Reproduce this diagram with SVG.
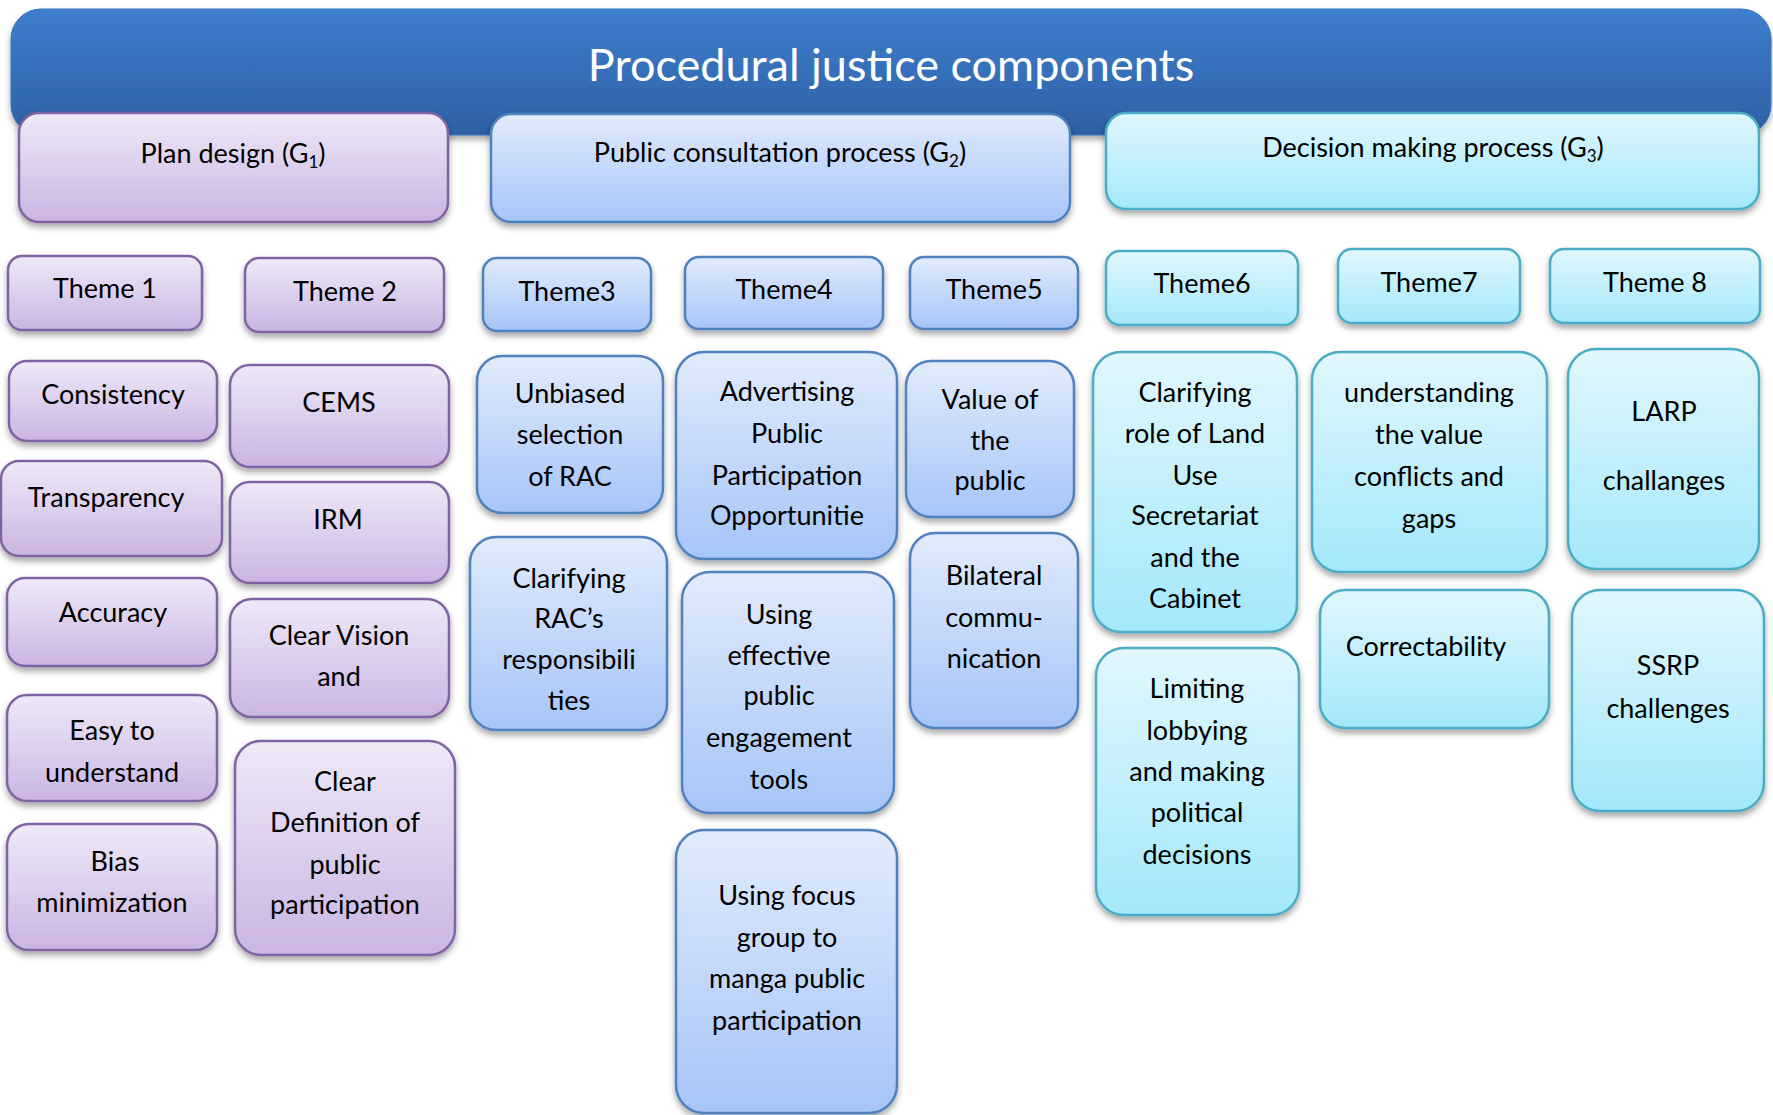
<svg xmlns="http://www.w3.org/2000/svg" width="1773" height="1115" viewBox="0 0 1773 1115">
<defs>
<linearGradient id="gt" x1="0" y1="0" x2="0" y2="1"><stop offset="0" stop-color="#3d7fcf"/><stop offset="1" stop-color="#2e60a3"/></linearGradient>
<linearGradient id="gp" x1="0" y1="0" x2="0" y2="1"><stop offset="0" stop-color="#efe9f7"/><stop offset="1" stop-color="#cab5e3"/></linearGradient>
<linearGradient id="gb" x1="0" y1="0" x2="0" y2="1"><stop offset="0" stop-color="#e1ebfc"/><stop offset="1" stop-color="#a6c5f8"/></linearGradient>
<linearGradient id="gc" x1="0" y1="0" x2="0" y2="1"><stop offset="0" stop-color="#e1f7fd"/><stop offset="1" stop-color="#a3e8fb"/></linearGradient>
<filter id="sh" x="-10%" y="-10%" width="120%" height="130%"><feDropShadow dx="0" dy="4" stdDeviation="3" flood-color="#000" flood-opacity="0.35"/></filter>
</defs>
<style>
rect{stroke-width:2.5;filter:url(#sh)}
.t{fill:url(#gt);stroke:#3a72b8;stroke-width:1}
.p{fill:url(#gp);stroke:#8064a2}
.b{fill:url(#gb);stroke:#4f81bd}
.c{fill:url(#gc);stroke:#4bacc6}
text{font-family:Lato,"Liberation Sans",sans-serif;font-size:27px;fill:#000;text-anchor:middle}
.title{font-size:45px;fill:#fff}
.s{font-size:17px}
</style>
<g id="title"><rect class="t" x="11" y="9" width="1760" height="126" rx="30"/><text class="title" x="891" y="81">Procedural justice components</text></g>
<g id="connectors"></g>
<g id="g1"><rect class="p" x="19" y="113" width="429" height="109" rx="20"/><text x="233" y="163">Plan design (G<tspan class="s" dy="5">1</tspan><tspan dy="-5">)</tspan></text></g>
<g id="g2"><rect class="b" x="491" y="114" width="579" height="108" rx="20"/><text x="780" y="162">Public consultation process (G<tspan class="s" dy="5">2</tspan><tspan dy="-5">)</tspan></text></g>
<g id="g3"><rect class="c" x="1106" y="113" width="653" height="96" rx="20"/><text x="1433" y="157">Decision making process (G<tspan class="s" dy="5">3</tspan><tspan dy="-5">)</tspan></text></g>

<g id="theme1"><rect class="p" x="8" y="256" width="194" height="74" rx="14"/><text x="105" y="298">Theme 1</text></g>
<g id="theme2"><rect class="p" x="245" y="258" width="199" height="74" rx="14"/><text x="345" y="301">Theme 2</text></g>
<g id="theme3"><rect class="b" x="483" y="258" width="168" height="73" rx="14"/><text x="567" y="301">Theme3</text></g>
<g id="theme4"><rect class="b" x="685" y="257" width="198" height="72" rx="14"/><text x="784" y="299">Theme4</text></g>
<g id="theme5"><rect class="b" x="910" y="257" width="168" height="72" rx="14"/><text x="994" y="299">Theme5</text></g>
<g id="theme6"><rect class="c" x="1106" y="251" width="192" height="74" rx="14"/><text x="1202" y="293">Theme6</text></g>
<g id="theme7"><rect class="c" x="1338" y="249" width="182" height="74" rx="14"/><text x="1429" y="292">Theme7</text></g>
<g id="theme8"><rect class="c" x="1550" y="249" width="210" height="74" rx="14"/><text x="1655" y="292">Theme 8</text></g>

<g id="consistency"><rect class="p" x="9" y="361" width="208" height="80" rx="18"/><text x="113" y="404">Consistency</text></g>
<g id="transparency"><rect class="p" x="1" y="461" width="221" height="95" rx="18"/><text x="106" y="507">Transparency</text></g>
<g id="accuracy"><rect class="p" x="7" y="578" width="210" height="88" rx="18"/><text x="113" y="622">Accuracy</text></g>
<g id="easy"><rect class="p" x="7" y="695" width="210" height="106" rx="20"/><text x="112" y="740">Easy to</text><text x="112" y="782">understand</text></g>
<g id="bias"><rect class="p" x="7" y="824" width="210" height="126" rx="22"/><text x="115" y="871">Bias</text><text x="112" y="912">minimization</text></g>

<g id="cems"><rect class="p" x="230" y="365" width="219" height="102" rx="20"/><text x="339" y="412">CEMS</text></g>
<g id="irm"><rect class="p" x="230" y="482" width="219" height="101" rx="20"/><text x="338" y="529">IRM</text></g>
<g id="clearvision"><rect class="p" x="230" y="599" width="219" height="118" rx="22"/><text x="339" y="645">Clear Vision</text><text x="339" y="686">and</text></g>
<g id="cleardef"><rect class="p" x="235" y="741" width="220" height="214" rx="26"/><text x="345" y="791">Clear</text><text x="345" y="832">Definition of</text><text x="345" y="874">public</text><text x="345" y="914">participation</text></g>

<g id="unbiased"><rect class="b" x="477" y="356" width="186" height="157" rx="25"/><text x="570" y="403">Unbiased</text><text x="570" y="444">selection</text><text x="570" y="486">of RAC</text></g>
<g id="clarifyingrac"><rect class="b" x="470" y="537" width="197" height="193" rx="26"/><text x="569" y="588">Clarifying</text><text x="569" y="628">RAC’s</text><text x="569" y="669">responsibili</text><text x="569" y="710">ties</text></g>

<g id="advertising"><rect class="b" x="676" y="352" width="221" height="207" rx="28"/><text x="787" y="401">Advertising</text><text x="787" y="443">Public</text><text x="787" y="485">Participation</text><text x="787" y="525">Opportunitie</text></g>
<g id="usingeffective"><rect class="b" x="682" y="572" width="212" height="241" rx="28"/><text x="779" y="624">Using</text><text x="779" y="665">effective</text><text x="779" y="705">public</text><text x="779" y="747">engagement</text><text x="779" y="789">tools</text></g>
<g id="usingfocus"><rect class="b" x="676" y="830" width="221" height="283" rx="28"/><text x="787" y="905">Using focus</text><text x="787" y="947">group to</text><text x="787" y="988">manga public</text><text x="787" y="1030">participation</text></g>

<g id="valueofpublic"><rect class="b" x="906" y="361" width="168" height="156" rx="25"/><text x="990" y="409">Value of</text><text x="990" y="450">the</text><text x="990" y="490">public</text></g>
<g id="bilateral"><rect class="b" x="910" y="533" width="168" height="195" rx="25"/><text x="994" y="585">Bilateral</text><text x="994" y="627">commu-</text><text x="994" y="668">nication</text></g>

<g id="clarifyingrole"><rect class="c" x="1093" y="352" width="204" height="280" rx="28"/><text x="1195" y="402">Clarifying</text><text x="1195" y="443">role of Land</text><text x="1195" y="485">Use</text><text x="1195" y="525">Secretariat</text><text x="1195" y="567">and the</text><text x="1195" y="608">Cabinet</text></g>
<g id="limiting"><rect class="c" x="1096" y="648" width="203" height="267" rx="28"/><text x="1197" y="698">Limiting</text><text x="1197" y="740">lobbying</text><text x="1197" y="781">and making</text><text x="1197" y="822">political</text><text x="1197" y="864">decisions</text></g>

<g id="understanding"><rect class="c" x="1312" y="352" width="235" height="220" rx="28"/><text x="1429" y="402">understanding</text><text x="1429" y="444">the value</text><text x="1429" y="486">conflicts and</text><text x="1429" y="528">gaps</text></g>
<g id="correctability"><rect class="c" x="1320" y="590" width="229" height="138" rx="25"/><text x="1426" y="656">Correctability</text></g>

<g id="larp"><rect class="c" x="1568" y="349" width="191" height="220" rx="28"/><text x="1664" y="421">LARP</text><text x="1664" y="490">challanges</text></g>
<g id="ssrp"><rect class="c" x="1572" y="590" width="192" height="221" rx="28"/><text x="1668" y="675">SSRP</text><text x="1668" y="718">challenges</text></g>
</svg>
